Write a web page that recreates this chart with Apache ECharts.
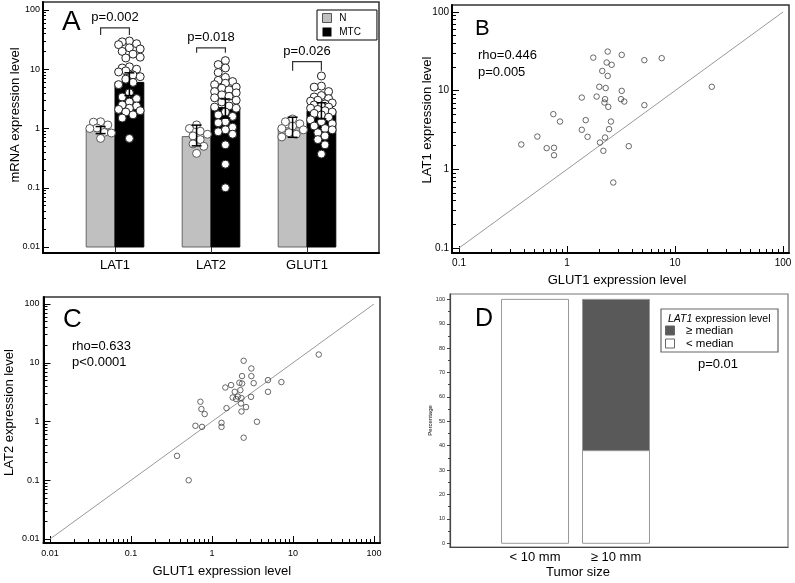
<!DOCTYPE html>
<html><head><meta charset="utf-8">
<script src="https://cdn.jsdelivr.net/npm/echarts@6/dist/echarts.min.js"></script>
<style>html,body{margin:0;padding:0;background:#fff}#c{width:795px;height:583px}</style>
</head><body><div id="c"></div>
<script>
// ---------------- DATA ----------------
// Panel A
const geneNames = ['LAT1', 'LAT2', 'GLUT1'];
const barN = [0.95, 0.73, 1.03];
const barMTC = [6.0, 2.25, 2.0];
const errLowN = [0.82, 0.51, 0.71];
const errHighN = [1.08, 1.14, 1.55];
const errLowMTC = [3.6, 1.5, 1.45];
const errHighMTC = [8.7, 3.15, 2.72];
const pointsN_LAT1 = [1.3, 1.28, 1.15, 1.02, 1.0, 0.86, 0.84, 0.68];
const pointsN_LAT2 = [1.15, 1.0, 0.9, 0.8, 0.75, 0.65, 0.55, 0.5, 0.38];
const pointsN_GLUT1 = [1.45, 1.3, 1.2, 1.1, 1.0, 0.95, 0.85, 0.8, 0.72];
const pointsMTC_LAT1 = [30, 29, 27, 26, 23, 22, 20, 18, 16, 15.5, 11, 10.5, 10, 9.4, 9, 8, 7.5, 6.8, 6, 5.5, 4.0, 3.4, 3.2, 2.8, 2.5, 2.4, 2.2, 2.1, 2.0, 1.9, 1.7, 1.5, 0.68];
const pointsMTC_LAT2 = [14, 12, 10.5, 8.8, 7.3, 6.5, 6.2, 5.8, 5.5, 5.0, 4.8, 4.5, 4.2, 4.0, 3.7, 3.5, 3.3, 3.0, 2.8, 2.4, 2.3, 2.2, 1.9, 1.7, 1.6, 1.3, 1.25, 1.05, 0.95, 0.88, 0.8, 0.53, 0.25, 0.1];
const pointsMTC_GLUT1 = [7.7, 5.2, 5.0, 4.2, 3.6, 3.4, 3.2, 3.0, 2.9, 2.7, 2.6, 2.5, 2.4, 2.3, 2.2, 2.1, 2.0, 1.9, 1.8, 1.7, 1.55, 1.4, 1.3, 1.2, 1.1, 1.0, 0.95, 0.85, 0.75, 0.65, 0.53, 0.37];
const pLabelsA = ['p=0.002', 'p=0.018', 'p=0.026'];
const bracketTop = [50, 23, 13.4];
const bracketLeg = [38, 18.9, 9.4];
// Panel B
const glut1B = [1.75, 1.37, 1.88, 1.99, 0.747, 0.861, 1.49, 1.37, 1.55, 0.531, 0.377, 0.648, 0.758, 0.758, 2.02, 2.17, 2.68, 3.73, 2.38, 3.21, 2.33, 2.59, 5.2, 7.53, 2.12, 2.38, 2.28, 3.21, 2.25, 3.16, 3.39, 2.22, 2.41, 5.2, 2.55, 2.45, 2.25, 21.9];
const lat1B = [26.3, 8.17, 8.41, 11.2, 5.03, 4.05, 4.22, 3.18, 2.59, 2.61, 2.07, 1.86, 1.88, 1.51, 2.19, 1.72, 0.68, 1.97, 31.4, 28.5, 22.8, 21.3, 24.4, 25.9, 17.8, 15.4, 10.8, 9.94, 7.8, 7.8, 7.27, 7.06, 6.22, 6.54, 4.05, 3.24, 2.54, 11.2];
const statsB = ['rho=0.446', 'p=0.005'];
// Panel C
const glut1C = [2.46, 3.06, 1.46, 1.72, 2.18, 2.35, 2.35, 3.06, 3.27, 4.91, 7.19, 20.8, 1.91, 2.24, 1.80, 2.09, 1.98, 2.31, 3.03, 4.91, 1.51, 2.28, 2.63, 2.31, 0.719, 0.74, 0.812, 0.753, 1.31, 1.31, 3.59, 2.46, 0.624, 0.37, 0.515];
const lat2C = [10.8, 7.98, 3.79, 4.17, 4.56, 4.43, 5.93, 5.93, 4.5, 5.07, 4.69, 13.8, 3.2, 3.42, 2.56, 2.66, 2.41, 2.5, 2.63, 3.2, 1.69, 2.03, 1.76, 1.48, 2.17, 1.63, 1.34, 0.81, 0.95, 0.81, 0.99, 0.53, 0.845, 0.26, 0.1];
const statsC = ['rho=0.633', 'p<0.0001'];
// Panel D
const sizeCats = ['< 10 mm', '≥ 10 mm'];
const belowMedian = [100, 38];
const aboveMedian = [0, 62];
// Tick values
const ticksA = [0.01, 0.1, 1, 10, 100];
const ticksB = [0.1, 1, 10, 100];
const ticksC = [0.01, 0.1, 1, 10, 100];
const ticksD = [0, 10, 20, 30, 40, 50, 60, 70, 80, 90, 100];
const minorD = [5, 15, 25, 35, 45, 55, 65, 75, 85, 95];

// ---------------- HELPERS ----------------
const FONT = '"Liberation Sans", Arial, Helvetica, sans-serif';
function fmtNum(v) { return String(parseFloat(Number(v).toPrecision(6))); }
function minorLog(lo, hi) {
  const out = [];
  for (let e = lo; e <= hi; e++) for (let m = 2; m <= 9; m++) out.push(parseFloat((m * Math.pow(10, e)).toPrecision(6)));
  return out;
}
function majorAxis(o) {
  return Object.assign({
    type: 'log', logBase: 10, nameLocation: 'middle', nameMoveOverlap: false,
    axisLine: { show: true, onZero: false, lineStyle: { color: '#000', width: 2 } },
    axisTick: { show: true, inside: true, length: o.tickLen || 7, customValues: o.ticks, lineStyle: { color: '#000', width: 1 } },
    axisLabel: { show: true, customValues: o.ticks, formatter: fmtNum, fontSize: o.fs || 10, color: '#000', margin: o.margin || 4, fontFamily: FONT },
    splitLine: { show: false }, minorTick: { show: false },
    nameTextStyle: Object.assign({ fontSize: 13, color: '#000', fontFamily: FONT }, o.nameStyle || {})
  }, o.base);
}
function minorAxis(o) {
  return Object.assign({
    type: 'log', logBase: 10,
    axisLine: { show: false, onZero: false },
    axisTick: { show: true, inside: true, length: o.tickLen || 4, customValues: o.ticks, lineStyle: { color: '#000', width: 1 } },
    axisLabel: { show: false }, splitLine: { show: false }
  }, o.base);
}
function swarm(ys, r) {
  const order = ys.map((y, i) => i).sort((a, b) => ys[a] - ys[b]);
  const placed = [], dx = new Array(ys.length);
  const cands = [0, -1, 1, -2, 2, -3, 3].map(k => k * r * 0.9);
  for (const i of order) {
    let best = 0, bestScore = -Infinity;
    for (const c of cands) {
      let minD = Infinity;
      for (const p of placed) { const d = Math.hypot(c - p.x, ys[i] - p.y); if (d < minD) minD = d; }
      if (minD >= 2 * r * 0.85) { best = c; break; }
      if (minD > bestScore) { bestScore = minD; best = c; }
    }
    dx[i] = best; placed.push({ x: best, y: ys[i] });
  }
  return dx;
}

const groupsN = [pointsN_LAT1, pointsN_LAT2, pointsN_GLUT1];
const groupsMTC = [pointsMTC_LAT1, pointsMTC_LAT2, pointsMTC_GLUT1];
const BAR_W = 0.3, BAR_BASE = 0.01, DOT_R = 4, D_HALF = 0.4136;

function barRender(side) {
  return function (params, api) {
    const x = api.value(0), v = api.value(1);
    const x0 = side < 0 ? x - BAR_W : x, x1 = side < 0 ? x : x + BAR_W;
    const p0 = api.coord([x0, BAR_BASE]), p1 = api.coord([x1, v]);
    return { type: 'rect', shape: { x: p0[0], y: p1[1], width: p1[0] - p0[0], height: p0[1] - p1[1] },
      style: side < 0 ? { fill: '#c0c0c0', stroke: '#666', lineWidth: 1 } : { fill: '#000', stroke: '#000', lineWidth: 1 } };
  };
}
function dotRender(groups, stroke) {
  return function (params, api) {
    const xc = api.value(0), g = api.value(2), k = api.value(3);
    const vals = groups[g];
    const ys = vals.map(v => api.coord([xc, v])[1]);
    const dx = swarm(ys, DOT_R);
    const p = api.coord([xc, vals[k]]);
    return { type: 'circle', shape: { cx: p[0] + dx[k], cy: p[1], r: DOT_R }, style: { fill: '#fff', stroke: stroke, lineWidth: 1 } };
  };
}
function dotData(groups, off) {
  const out = [];
  groups.forEach((vals, g) => vals.forEach((v, k) => out.push([g + 1 + off, v, g, k])));
  return out;
}
function stackRender(fill) {
  return function (params, api) {
    const x = api.value(0), lo = api.value(1), hi = api.value(2);
    if (!(hi > lo)) return null;
    const p0 = api.coord([x - D_HALF, lo]), p1 = api.coord([x + D_HALF, hi]);
    return { type: 'rect', shape: { x: p0[0], y: p1[1], width: p1[0] - p0[0], height: p0[1] - p1[1] },
      style: { fill: fill, stroke: '#999', lineWidth: 1 } };
  };
}

// ---------------- OPTION ----------------
const option = {
  animation: false,
  textStyle: { fontFamily: FONT },
  grid: [
    { left: 43, top: 2, width: 336, height: 251, show: true, borderColor: '#333', borderWidth: 1.5, containLabel: false, outerBoundsMode: 'none' },
    { left: 452, top: 5, width: 337, height: 248, show: true, borderColor: '#333', borderWidth: 1.5, containLabel: false, outerBoundsMode: 'none' },
    { left: 43.5, top: 297, width: 336.5, height: 246, show: true, borderColor: '#333', borderWidth: 1.5, containLabel: false, outerBoundsMode: 'none' },
    { left: 450, top: 294, width: 338, height: 253, show: true, borderColor: '#777', borderWidth: 1.2, containLabel: false, outerBoundsMode: 'none' }
  ],
  xAxis: [
    { type: 'value', gridIndex: 0, min: 0.25, max: 3.75, position: 'bottom',
      axisLine: { show: true, onZero: false, lineStyle: { color: '#000', width: 2 } },
      axisTick: { show: true, inside: true, length: 6, customValues: [1, 2, 3], lineStyle: { color: '#333', width: 1 } },
      axisLabel: { customValues: [1, 2, 3], formatter: v => geneNames[Math.round(v) - 1], fontSize: 13, color: '#000', margin: 6, fontFamily: FONT },
      splitLine: { show: false } },
    majorAxis({ ticks: ticksB, fs: 10, margin: 5, base: { gridIndex: 1, min: 0.0861, max: 113.6, position: 'bottom',
      name: 'GLUT1 expression level', nameGap: 21 }, nameStyle: { padding: [0, 7, 0, 0] } }),
    minorAxis({ ticks: minorLog(-1, 1), base: { gridIndex: 1, min: 0.0861, max: 113.6, position: 'bottom' } }),
    majorAxis({ ticks: ticksC, fs: 9, margin: 6, base: { gridIndex: 2, min: 0.00831, max: 118.6, position: 'bottom',
      name: 'GLUT1 expression level', nameGap: 22 }, nameStyle: { padding: [0, 0, 0, 20] } }),
    minorAxis({ ticks: minorLog(-2, 1), base: { gridIndex: 2, min: 0.00831, max: 118.6, position: 'bottom' } }),
    { type: 'value', gridIndex: 3, min: -0.05, max: 4.124, position: 'bottom',
      axisLine: { show: true, onZero: false, lineStyle: { color: '#444', width: 1.2 } },
      axisTick: { show: false },
      axisLabel: { customValues: [1, 2], formatter: v => sizeCats[Math.round(v) - 1], fontSize: 13, color: '#000', margin: 4, fontFamily: FONT },
      splitLine: { show: false },
      name: 'Tumor size', nameLocation: 'middle', nameGap: 19, nameMoveOverlap: false,
      nameTextStyle: { fontSize: 13, color: '#000', fontFamily: FONT, padding: [0, 82, 0, 0] } }
  ],
  yAxis: [
    majorAxis({ ticks: ticksA, fs: 9, margin: 3, tickLen: 6, base: { gridIndex: 0, min: 0.00792, max: 136.5, position: 'left',
      name: 'mRNA expression level', nameGap: 21 }, nameStyle: { padding: [0, 0, 0, 25] } }),
    minorAxis({ ticks: minorLog(-2, 1), tickLen: 3, base: { gridIndex: 0, min: 0.00792, max: 136.5, position: 'left' } }),
    majorAxis({ ticks: ticksB, fs: 10, margin: 3, base: { gridIndex: 1, min: 0.0864, max: 122.7, position: 'left',
      name: 'LAT1 expression level', nameGap: 18 }, nameStyle: { padding: [0, 0, 0, 18] } }),
    minorAxis({ ticks: minorLog(-1, 1), base: { gridIndex: 1, min: 0.0864, max: 122.7, position: 'left' } }),
    majorAxis({ ticks: ticksC, fs: 9, margin: 4, base: { gridIndex: 2, min: 0.00855, max: 131.6, position: 'left',
      name: 'LAT2 expression level', nameGap: 28 }, nameStyle: { padding: [0, 0, 0, 15] } }),
    minorAxis({ ticks: minorLog(-2, 1), base: { gridIndex: 2, min: 0.00855, max: 131.6, position: 'left' } }),
    { type: 'value', gridIndex: 3, min: -1.52, max: 102.2, position: 'left',
      axisLine: { show: true, onZero: false, lineStyle: { color: '#444', width: 1.2 } },
      axisTick: { show: true, inside: false, length: 3, customValues: ticksD, lineStyle: { color: '#444', width: 1 } },
      axisLabel: { customValues: ticksD, fontSize: 5.5, color: '#222', margin: 5, fontFamily: FONT },
      splitLine: { show: false },
      name: 'Percentage', nameLocation: 'middle', nameGap: 17, nameMoveOverlap: false,
      nameTextStyle: { fontSize: 6, color: '#000', fontFamily: FONT } },
    { type: 'value', gridIndex: 3, min: -1.52, max: 102.2, position: 'left',
      axisLine: { show: false, onZero: false },
      axisTick: { show: true, inside: false, length: 2, customValues: minorD, lineStyle: { color: '#444', width: 1 } },
      axisLabel: { show: false }, splitLine: { show: false } }
  ],
  legend: [
    { data: [{ name: 'N', icon: 'rect', itemStyle: { color: '#c0c0c0', borderColor: '#555', borderWidth: 1 } },
             { name: 'MTC', icon: 'rect', itemStyle: { color: '#000' } }],
      left: 317, top: 10, orient: 'vertical', itemWidth: 9, itemHeight: 9, itemGap: 2,
      padding: [2, 16, 2, 5], borderColor: '#000', borderWidth: 1, borderRadius: 0,
      formatter: n => ' ' + n, selectedMode: false,
      textStyle: { fontSize: 10, lineHeight: 12, color: '#000', fontFamily: FONT } },
    { data: [{ name: '≥ median', icon: 'rect', itemStyle: { color: '#595959', borderColor: '#666', borderWidth: 1 } },
             { name: '< median', icon: 'rect', itemStyle: { color: '#fff', borderColor: '#666', borderWidth: 1 } }],
      left: 665, top: 324.5, orient: 'vertical', itemWidth: 9, itemHeight: 9, itemGap: 1, padding: 0,
      formatter: n => '  ' + n, selectedMode: false,
      textStyle: { fontSize: 11.5, lineHeight: 11, color: '#000', fontFamily: FONT } }
  ],
  series: [
    { type: 'custom', name: 'N', xAxisIndex: 0, yAxisIndex: 0, itemStyle: { color: '#c0c0c0' },
      encode: { x: 0, y: 1 }, data: barN.map((v, i) => [i + 1, v]), renderItem: barRender(-1), z: 2 },
    { type: 'custom', name: 'MTC', xAxisIndex: 0, yAxisIndex: 0, itemStyle: { color: '#000' },
      encode: { x: 0, y: 1 }, data: barMTC.map((v, i) => [i + 1, v]), renderItem: barRender(1), z: 2 },
    { type: 'custom', name: 'N values', xAxisIndex: 0, yAxisIndex: 0, encode: { x: 0, y: 1 },
      data: dotData(groupsN, -BAR_W / 2), renderItem: dotRender(groupsN, '#555'), z: 3 },
    { type: 'custom', name: 'MTC values', xAxisIndex: 0, yAxisIndex: 0, encode: { x: 0, y: 1 },
      data: dotData(groupsMTC, BAR_W / 2), renderItem: dotRender(groupsMTC, '#222'), z: 3 },
    { type: 'custom', name: 'error', xAxisIndex: 0, yAxisIndex: 0, encode: { x: 0, y: [1, 2] }, z: 4,
      data: [].concat(geneNames.map((g, i) => [i + 1 - BAR_W / 2, errLowN[i], errHighN[i]]),
                      geneNames.map((g, i) => [i + 1 + BAR_W / 2, errLowMTC[i], errHighMTC[i]])),
      renderItem: function (params, api) {
        const x = api.value(0);
        const lo = api.coord([x, api.value(1)]), hi = api.coord([x, api.value(2)]);
        const st = { stroke: '#000', lineWidth: 1.5 };
        return { type: 'group', children: [
          { type: 'line', shape: { x1: lo[0], y1: lo[1], x2: hi[0], y2: hi[1] }, style: st },
          { type: 'line', shape: { x1: lo[0] - 5, y1: lo[1], x2: lo[0] + 5, y2: lo[1] }, style: st },
          { type: 'line', shape: { x1: hi[0] - 5, y1: hi[1], x2: hi[0] + 5, y2: hi[1] }, style: st }
        ] };
      } },
    { type: 'custom', name: 'brackets', xAxisIndex: 0, yAxisIndex: 0, encode: { x: 0, y: [1, 2] }, z: 4,
      data: geneNames.map((g, i) => [i + 1, bracketTop[i], bracketLeg[i], i]),
      renderItem: function (params, api) {
        const x = api.value(0), i = api.value(3);
        const pl = api.coord([x - BAR_W / 2, api.value(1)]), pr = api.coord([x + BAR_W / 2, api.value(1)]);
        const lb = api.coord([x, api.value(2)]);
        return { type: 'group', children: [
          { type: 'polyline', shape: { points: [[pl[0], lb[1]], pl, pr, [pr[0], lb[1]]] }, style: { stroke: '#333', lineWidth: 1.2, fill: null } },
          { type: 'text', x: (pl[0] + pr[0]) / 2, y: pl[1] - 10,
            style: { text: pLabelsA[i], font: '13px ' + FONT, fill: '#000', align: 'center', verticalAlign: 'middle', textAlign: 'center', textVerticalAlign: 'middle' } }
        ] };
      } },
    // Panel B
    { type: 'line', name: 'identity B', xAxisIndex: 1, yAxisIndex: 2, data: [[0.1, 0.1], [100, 100]], showSymbol: false, symbol: 'none',
      lineStyle: { color: '#999', width: 1 }, silent: true, z: 1 },
    { type: 'scatter', name: 'B', xAxisIndex: 1, yAxisIndex: 2, symbol: 'circle', symbolSize: 5.5,
      itemStyle: { color: 'rgba(255,255,255,0)', borderColor: '#444', borderWidth: 1 },
      data: glut1B.map((x, i) => [x, lat1B[i]]) },
    // Panel C
    { type: 'line', name: 'identity C', xAxisIndex: 3, yAxisIndex: 4, data: [[0.01, 0.01], [100, 100]], showSymbol: false, symbol: 'none',
      lineStyle: { color: '#999', width: 1 }, silent: true, z: 1 },
    { type: 'scatter', name: 'C', xAxisIndex: 3, yAxisIndex: 4, symbol: 'circle', symbolSize: 5.5,
      itemStyle: { color: 'rgba(255,255,255,0)', borderColor: '#444', borderWidth: 1 },
      data: glut1C.map((x, i) => [x, lat2C[i]]) },
    // Panel D (stacked percentages)
    { type: 'custom', name: '< median', xAxisIndex: 5, yAxisIndex: 6, encode: { x: 0, y: [1, 2] },
      itemStyle: { color: '#fff' },
      data: belowMedian.map((v, i) => [i + 1, 0, v]), renderItem: stackRender('#fff') },
    { type: 'custom', name: '≥ median', xAxisIndex: 5, yAxisIndex: 6, encode: { x: 0, y: [1, 2] },
      itemStyle: { color: '#595959' },
      data: aboveMedian.map((v, i) => [i + 1, belowMedian[i], belowMedian[i] + v]), renderItem: stackRender('#595959') }
  ],
  graphic: [
    { type: 'text', x: 62, y: 22, style: { text: 'A', font: '28px ' + FONT, fill: '#000', textVerticalAlign: 'middle', verticalAlign: 'middle' } },
    { type: 'text', x: 475, y: 29, style: { text: 'B', font: '22px ' + FONT, fill: '#000', textVerticalAlign: 'middle', verticalAlign: 'middle' } },
    { type: 'text', x: 63, y: 320, style: { text: 'C', font: '26px ' + FONT, fill: '#000', textVerticalAlign: 'middle', verticalAlign: 'middle' } },
    { type: 'text', x: 475, y: 319, style: { text: 'D', font: '25px ' + FONT, fill: '#000', textVerticalAlign: 'middle', verticalAlign: 'middle' } },
    { type: 'text', x: 478, y: 55, style: { text: statsB[0], font: '13px ' + FONT, fill: '#000', textVerticalAlign: 'middle', verticalAlign: 'middle' } },
    { type: 'text', x: 478, y: 72, style: { text: statsB[1], font: '13px ' + FONT, fill: '#000', textVerticalAlign: 'middle', verticalAlign: 'middle' } },
    { type: 'text', x: 72, y: 346, style: { text: statsC[0], font: '13px ' + FONT, fill: '#000', textVerticalAlign: 'middle', verticalAlign: 'middle' } },
    { type: 'text', x: 72, y: 362, style: { text: statsC[1], font: '13px ' + FONT, fill: '#000', textVerticalAlign: 'middle', verticalAlign: 'middle' } },
    { type: 'rect', shape: { x: 661, y: 309, width: 117, height: 43 }, style: { fill: 'rgba(0,0,0,0)', stroke: '#666', lineWidth: 1.2 } },
    { type: 'text', x: 668, y: 319, style: { text: '{it|LAT1} expression level', rich: { it: { fontStyle: 'italic', fontSize: 10.5, fontFamily: FONT } },
      font: '10.5px ' + FONT, fill: '#000', textVerticalAlign: 'middle', verticalAlign: 'middle' } },
    { type: 'text', x: 718, y: 364, style: { text: 'p=0.01', font: '13px ' + FONT, fill: '#000', align: 'center', textAlign: 'center', textVerticalAlign: 'middle', verticalAlign: 'middle' } }
  ]
};
const chart = echarts.init(document.getElementById('c'));
chart.setOption(option);
</script>
</body></html>
